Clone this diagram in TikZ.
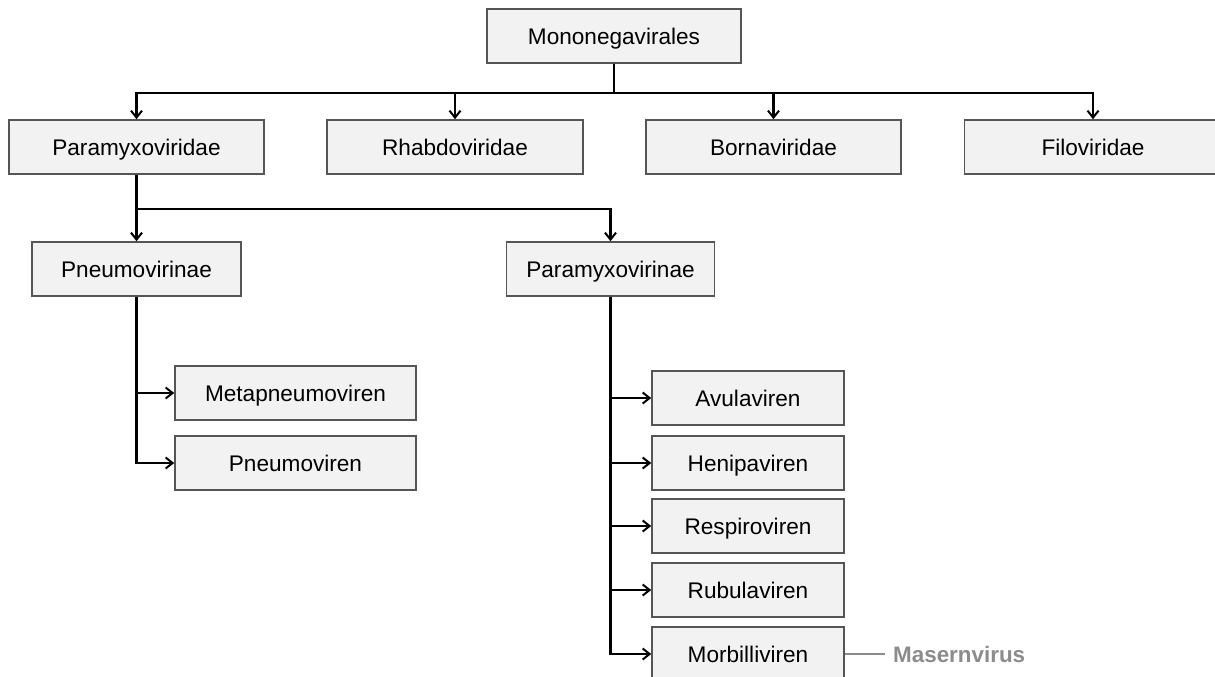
\documentclass[tikz,border=0pt]{standalone}
\usepackage{fontspec}
\setmainfont{Liberation Sans}
\usetikzlibrary{arrows.meta}
\definecolor{boxfill}{HTML}{F2F2F2}
\definecolor{boxline}{HTML}{555555}
\definecolor{note}{HTML}{8C8C8C}
\tikzset{
  taxon/.style={draw=boxline, line width=1.5pt, fill=boxfill, inner sep=0pt,
    minimum height=54pt, text height=16.2pt, text depth=0pt,
    font=\fontsize{22.6}{27}\selectfont},
  link/.style={draw=black, line width=2.2pt,
    -{Straight Barb[length=7pt,width=11pt,line width=2pt]}},
  notelink/.style={draw=note, line width=1.6pt},
  notetext/.style={text=note, font=\fontsize{22.4}{27}\selectfont\bfseries,
    anchor=west, inner xsep=8pt, inner ysep=0pt, text height=16.2pt, text depth=0pt}
}
\begin{document}
\begin{tikzpicture}[x=1pt,y=-1pt]
\clip (0,0) rectangle (1215,677);
\fill[white] (0,0) rectangle (1215,677);

% order
\node[taxon, minimum width=254pt] (mono) at (614,36) {Mononegavirales};

% families
\node[taxon, minimum width=255pt] (paramyxoviridae) at (136.5,147) {Paramyxoviridae};
\node[taxon, minimum width=256pt] (rhabdo) at (455,147) {Rhabdoviridae};
\node[taxon, minimum width=255pt] (borna) at (773.5,147) {Bornaviridae};
\node[taxon, minimum width=257pt] (filo) at (1093,147) {Filoviridae};

% subfamilies
\node[taxon, minimum width=209pt] (pneumovirinae) at (136.5,269) {Pneumovirinae};
\node[taxon, minimum width=208pt] (paramyxovirinae) at (610.5,269) {Paramyxovirinae};

% genera of Pneumovirinae
\node[taxon, minimum width=241pt] (metapneumo) at (295.5,393) {Metapneumoviren};
\node[taxon, minimum width=241pt] (pneumo) at (295.5,463) {Pneumoviren};

% genera of Paramyxovirinae
\node[taxon, minimum width=192pt] (avula) at (748,398) {Avulaviren};
\node[taxon, minimum width=192pt] (henipa) at (748,463) {Henipaviren};
\node[taxon, minimum width=192pt] (respiro) at (748,526) {Respiroviren};
\node[taxon, minimum width=192pt] (rubula) at (748,590) {Rubulaviren};
\node[taxon, minimum width=192pt] (morbilli) at (748,654) {Morbilliviren};

% species example
\node[notetext] (masern) at (885,654) {Masernvirus};

% order -> families
\foreach \f in {paramyxoviridae,rhabdo,borna,filo}
  \draw[link] (mono.south) -- ++(0,29) -| (\f.north);

% family -> subfamilies
\foreach \s in {pneumovirinae,paramyxovirinae}
  \draw[link] (paramyxoviridae.south) -- ++(0,34) -| (\s.north);

% subfamilies -> genera
\foreach \g in {metapneumo,pneumo}
  \draw[link] (pneumovirinae.south) |- (\g.west);
\foreach \g in {avula,henipa,respiro,rubula,morbilli}
  \draw[link] (paramyxovirinae.south) |- (\g.west);

% genus -> species
\draw[notelink] (morbilli.east) -- (masern.west);
\end{tikzpicture}
\end{document}
